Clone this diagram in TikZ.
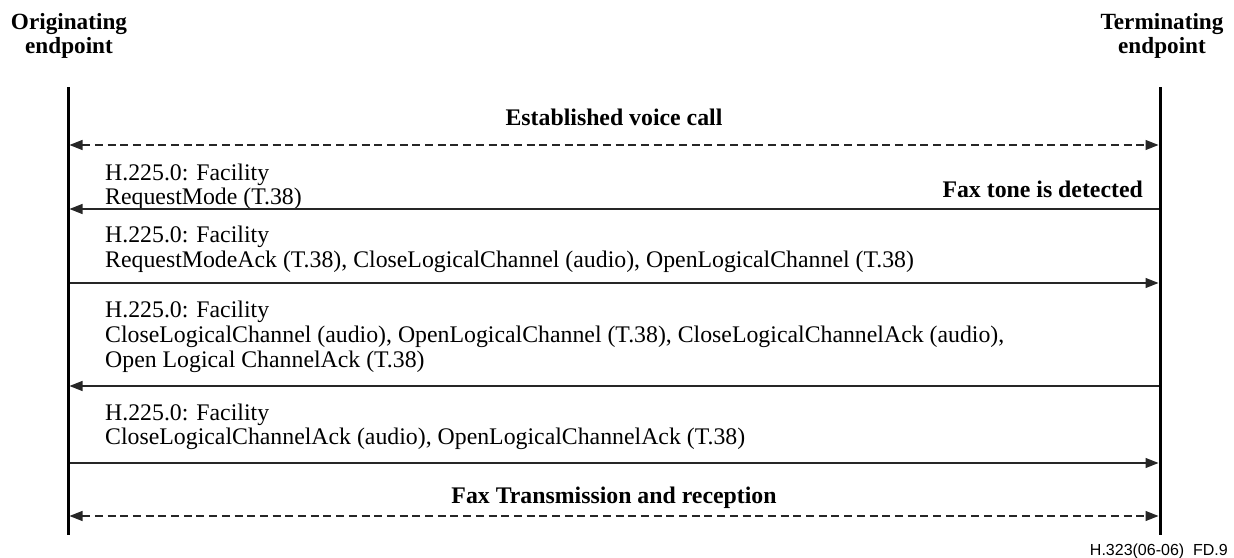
\documentclass[tikz,border=0pt]{standalone}
\usepackage{fontspec}
\setmainfont{Liberation Serif}
\newfontfamily\footfont{Liberation Sans}
\usetikzlibrary{arrows.meta}
\tikzset{
  lifeline/.style={line width=3pt, draw=black},
  msg/.style={line width=1.3pt, draw=black!85, -{Triangle[length=13pt,width=10pt]}},
  dmsg/.style={line width=1.3pt, draw=black!85, dash pattern=on 8pt off 4.7pt,
     {Triangle[length=13pt,width=10pt]}-{Triangle[length=13pt,width=10pt]}},
  title/.style={font=\fontsize{23.2}{26}\selectfont\bfseries, align=center, inner sep=0pt},
  lbl/.style={font=\fontsize{23.8}{25}\selectfont, anchor=base west, inner sep=0pt},
  blbl/.style={font=\fontsize{23.8}{25}\selectfont\bfseries, inner sep=0pt},
  foot/.style={font=\footfont\fontsize{16}{18}\selectfont, anchor=base east, inner sep=0pt}
}
\begin{document}
\begin{tikzpicture}[x=1pt,y=-1pt]
\useasboundingbox (0,0) rectangle (1234,557);
% lifelines
\coordinate (Ltop) at (68,87);
\coordinate (Lbot) at (68,535);
\coordinate (Rtop) at (1160,87);
\coordinate (Rbot) at (1160,535);
\draw[lifeline] (Ltop) -- (Lbot);
\draw[lifeline] (Rtop) -- (Rbot);
% titles
\node[title, anchor=base] (orig1) at (69,29) {Originating};
\node[title, anchor=base] (orig2) at (69,53) {endpoint};
\node[title, anchor=base] (term1) at (1162,29) {Terminating};
\node[title, anchor=base] (term2) at (1162,53) {endpoint};
% message anchor points
\foreach \n/\y in {a/145,b/209,c/283,d/386,e/463,f/516}{
  \coordinate (L\n) at (69.5,\y);
  \coordinate (R\n) at (1158.5,\y);
}
% 1 established voice call
\node[blbl, anchor=base] (t1) at (614,125) {Established voice call};
\draw[dmsg] (La) -- (Ra);
% 2 request mode
\node[lbl] (t2a) at (105,180) {H.225.0: Facility};
\node[lbl] (t2b) at (105,204) {RequestMode (T.38)};
\node[blbl, anchor=base east] (t2c) at (1143,197) {Fax tone is detected};
\draw[msg] (Rb) -- (Lb);
% 3
\node[lbl] (t3a) at (105,242) {H.225.0: Facility};
\node[lbl] (t3b) at (105,267) {RequestModeAck (T.38), CloseLogicalChannel (audio), OpenLogicalChannel (T.38)};
\draw[msg] (Lc) -- (Rc);
% 4
\node[lbl] (t4a) at (105,317) {H.225.0: Facility};
\node[lbl] (t4b) at (105,342) {CloseLogicalChannel (audio), OpenLogicalChannel (T.38), CloseLogicalChannelAck (audio),};
\node[lbl] (t4c) at (105,367) {Open Logical ChannelAck (T.38)};
\draw[msg] (Rd) -- (Ld);
% 5
\node[lbl] (t5a) at (105,420) {H.225.0: Facility};
\node[lbl] (t5b) at (105,444) {CloseLogicalChannelAck (audio), OpenLogicalChannelAck (T.38)};
\draw[msg] (Le) -- (Re);
% 6
\node[blbl, anchor=base] (t6) at (614,503) {Fax Transmission and reception};
\draw[dmsg] (Lf) -- (Rf);
% footer
\node[foot] (ft) at (1228,555) {H.323(06-06)\ \ FD.9};
\end{tikzpicture}
\end{document}
